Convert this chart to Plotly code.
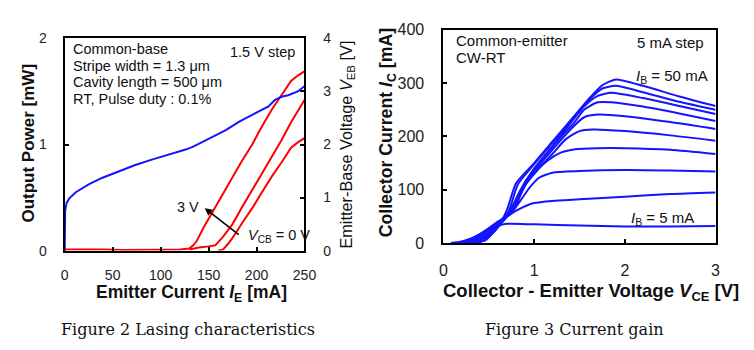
import plotly.graph_objects as go

W, H = 754, 350

# ---------------- Figure 2 data ----------------
# Emitter-base voltage (blue, right axis) vs emitter current
ie_veb = [0, 0, 0.5, 2, 4.8, 11.6, 25, 38.8, 55.9, 72.9, 90, 107, 127, 134, 148, 168, 182, 195.5, 212.5, 219, 226, 233, 243, 250]
veb = [0, 0.55, 0.75, 0.9, 0.985, 1.10, 1.25, 1.37, 1.49, 1.61, 1.71, 1.80, 1.91, 1.96, 2.09, 2.27, 2.43, 2.56, 2.72, 2.84, 2.90, 2.93, 3.00, 3.10]

# Output power (red, left axis) for V_CB = 3 V, 1.5 V, 0 V
ie_p3 = [0, 10, 20, 40, 60, 80, 100, 120, 130, 134, 137.6, 145, 154.6, 165, 175, 185, 195.5, 205, 216, 226, 236, 243, 250]
p3 = [0.01, 0.012, 0.008, 0.011, 0.006, 0.01, 0.008, 0.01, 0.02, 0.05, 0.09, 0.22, 0.37, 0.54, 0.70, 0.85, 1.00, 1.16, 1.33, 1.47, 1.60, 1.65, 1.69]
ie_p15 = [130, 140, 150, 157, 165, 175, 185, 195.5, 205, 216, 226, 236, 243, 250]
p15 = [0.01, 0.03, 0.04, 0.05, 0.13, 0.25, 0.41, 0.57, 0.72, 0.88, 1.04, 1.21, 1.32, 1.42]
ie_p0 = [160, 165, 170, 175, 185, 195.5, 205, 216, 226, 236, 243, 250]
p0 = [0.0, 0.01, 0.06, 0.12, 0.26, 0.40, 0.54, 0.70, 0.83, 0.97, 1.02, 1.06]

# ---------------- Figure 3 data ----------------
ib_labels = [5, 10, 15, 20, 25, 30, 35, 40, 45, 50]
vce = [
    [0.08, 0.2, 0.35, 0.5, 0.62, 0.7, 1.0, 1.5, 2.0, 2.5, 3.0],
    [0.12, 0.25, 0.4, 0.55, 0.7, 0.85, 1.0, 1.2, 1.5, 2.0, 2.5, 3.0],
    [0.16, 0.3, 0.45, 0.6, 0.75, 0.85, 0.95, 1.05, 1.2, 1.5, 2.0, 2.5, 3.0],
    [0.2, 0.32, 0.45, 0.6, 0.75, 0.85, 1.0, 1.15, 1.3, 1.45, 1.7, 2.0, 2.5, 3.0],
    [0.23, 0.35, 0.5, 0.65, 0.78, 0.9, 1.05, 1.2, 1.35, 1.5, 1.65, 2.0, 2.5, 3.0],
    [0.26, 0.38, 0.52, 0.66, 0.8, 0.9, 1.05, 1.2, 1.4, 1.55, 1.7, 2.0, 2.5, 3.0],
    [0.3, 0.4, 0.55, 0.7, 0.82, 0.95, 1.1, 1.3, 1.45, 1.55, 1.7, 1.85, 2.2, 2.6, 3.0],
    [0.32, 0.42, 0.55, 0.7, 0.85, 1.0, 1.2, 1.4, 1.55, 1.7, 1.85, 2.2, 2.6, 3.0],
    [0.34, 0.45, 0.58, 0.72, 0.82, 1.0, 1.2, 1.4, 1.6, 1.75, 1.9, 2.2, 2.6, 3.0],
    [0.36, 0.47, 0.6, 0.7, 0.8, 1.0, 1.2, 1.4, 1.6, 1.75, 1.9, 2.2, 2.6, 3.0],
]
ic = [
    [0, 3, 12, 24, 33, 36, 35, 33, 31, 31, 32],
    [0, 4, 16, 33, 50, 65, 75, 79, 82, 87, 92, 95],
    [0, 6, 22, 40, 57, 80, 104, 122, 132, 135, 137, 136, 134],
    [0, 5, 20, 38, 56, 95, 130, 155, 170, 176, 178, 178, 175, 167],
    [0, 6, 25, 45, 68, 110, 140, 167, 195, 210, 213, 210, 202, 192],
    [0, 6, 24, 44, 70, 115, 145, 175, 213, 236, 241, 238, 227, 214],
    [0, 5, 25, 50, 80, 125, 160, 200, 228, 250, 264, 264, 256, 243, 229],
    [0, 5, 22, 50, 100, 140, 182, 225, 256, 276, 282, 272, 257, 242],
    [0, 5, 25, 60, 110, 148, 188, 228, 268, 290, 295, 283, 265, 250],
    [0, 6, 30, 62, 112, 150, 190, 230, 270, 296, 307, 295, 275, 257],
]

RED = "#ff0000"
BLUE = "#1414ff"
SANS = "Liberation Sans, Arial, sans-serif"
SERIF = "DejaVu Serif, serif"

fig = go.Figure()

for xs, ys in [(ie_p3, p3), (ie_p15, p15), (ie_p0, p0)]:
    fig.add_trace(go.Scatter(x=xs, y=ys, mode="lines", line=dict(color=RED, width=2),
                             xaxis="x", yaxis="y", showlegend=False, hoverinfo="skip"))
fig.add_trace(go.Scatter(x=ie_veb, y=veb, mode="lines", line=dict(color=BLUE, width=2),
                         xaxis="x", yaxis="y2", showlegend=False, hoverinfo="skip"))

for xs, ys in zip(vce, ic):
    fig.add_trace(go.Scatter(x=xs, y=ys, mode="lines", line=dict(color=BLUE, width=2, shape="spline", smoothing=0.6),
                             xaxis="x2", yaxis="y3", showlegend=False, hoverinfo="skip"))

def px(x):
    return x / W

def py(y):
    return 1 - y / H

axis_common = dict(showline=True, linecolor="black", linewidth=2, ticks="inside", ticklen=4,
                   tickcolor="black", tickwidth=1.5, showgrid=False, zeroline=False,
                   tickfont=dict(family=SANS, size=14, color="#222"))
big_ticks = {**axis_common, "tickfont": dict(family=SANS, size=16, color="#222")}

fig.update_layout(
    width=W, height=H, margin=dict(l=0, r=0, t=0, b=0),
    paper_bgcolor="white", plot_bgcolor="white",
    xaxis=dict(domain=[px(62), px(307)], range=[0, 250], dtick=50, anchor="y", mirror=True,
               ticklabelstandoff=11, **axis_common),
    yaxis=dict(domain=[py(255), py(32)], range=[0, 2], dtick=1, anchor="x",
               ticklabelstandoff=13, **axis_common),
    yaxis2=dict(range=[0, 4], dtick=1, anchor="x", overlaying="y", side="right",
                ticklabelstandoff=14, **axis_common),
    xaxis2=dict(domain=[px(449), px(727)], range=[0, 3], dtick=1, anchor="y3", mirror=True,
                ticklabelstandoff=12, **big_ticks),
    yaxis3=dict(domain=[py(247), py(23)], range=[0, 400], dtick=100, anchor="x2", mirror=True,
                ticklabelstandoff=14, **big_ticks),
)

ann = []
def text(x, y, s, size=14.5, xanchor="left", angle=0, family=SANS, color="#111", bold=False):
    if bold:
        s = "<b>" + s + "</b>"
    ann.append(dict(x=px(x), y=py(y), xref="paper", yref="paper", text=s, showarrow=False,
                    xanchor=xanchor, yanchor="middle", textangle=angle,
                    font=dict(family=family, size=size, color=color)))

# Figure 2 texts
text(68, 43, "Common-base")
text(68, 61, "Stripe width = 1.3 μm")
text(68, 78, "Cavity length = 500 μm")
text(68, 96, "RT, Pulse duty : 0.1%")
text(299, 46, "1.5 V step", xanchor="right")
text(188, 209, "3 V", xanchor="center")
text(247, 240, "<i>V</i><sub>CB</sub> = 0 V")
text(25, 142, "Output Power [mW]", size=17, xanchor="center", angle=-90, bold=True)
text(350, 144, "Emitter-Base Voltage <i>V</i><sub>EB</sub> [V]", size=16.3, xanchor="center", angle=-90)
text(192, 300, "Emitter Current <i>I</i><sub>E</sub> [mA]", size=17.5, xanchor="center", bold=True)
text(188, 338, "Figure 2 Lasing characteristics", size=16, xanchor="center", family=SERIF)

# Figure 3 texts
text(460, 34, "Common-emitter", size=15)
text(460, 52, "CW-RT", size=15)
text(717, 36, "5 mA step", size=15, xanchor="right")
text(721, 72, "<i>I</i><sub>B</sub> = 50 mA", size=15, xanchor="right")
text(707, 221, "<i>I</i><sub>B</sub> = 5 mA", size=15, xanchor="right")
text(392, 131, "Collector Current <i>I</i><sub>C</sub> [mA]", size=17.7, xanchor="center", angle=-90, bold=True)
text(600, 299, "Collector - Emitter Voltage <i>V</i><sub>CE</sub> [V]", size=18.5, xanchor="center", bold=True)
text(583, 338, "Figure 3 Current gain", size=16, xanchor="center", family=SERIF)

# Arrow (V_CB increasing)
ann.append(dict(x=146, y=0.40, ax=183, ay=0.14, xref="x", yref="y", axref="x", ayref="y",
                text="", showarrow=True, arrowhead=2, arrowsize=1, arrowwidth=1.5, arrowcolor="black"))

fig.update_layout(annotations=ann)
fig.write_html("out.html")
